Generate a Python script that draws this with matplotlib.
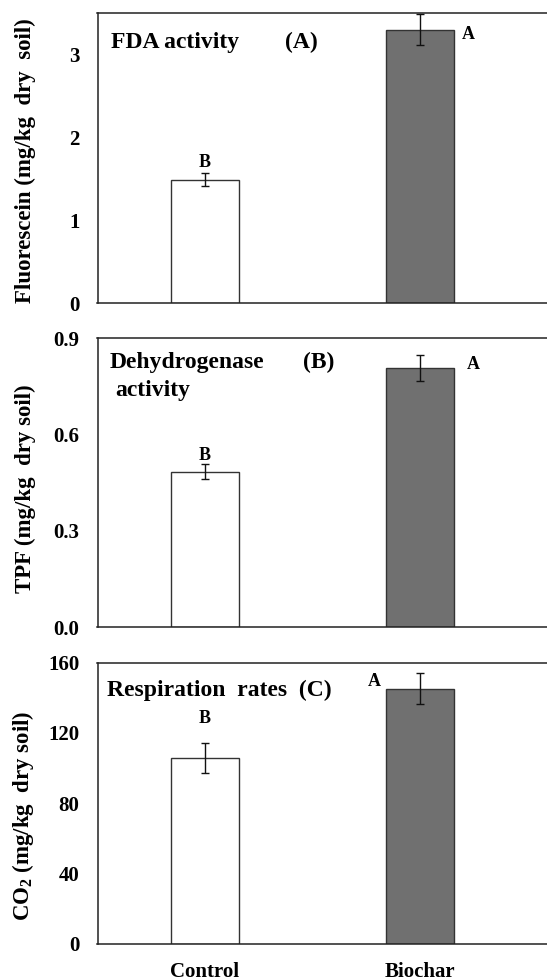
import matplotlib
matplotlib.use("Agg")
import matplotlib.pyplot as plt

plt.rcParams['font.family'] = ['Liberation Serif', 'DejaVu Serif']
plt.rcParams['font.weight'] = 'bold'
plt.rcParams['mathtext.fontset'] = 'custom'
plt.rcParams['mathtext.rm'] = 'Liberation Serif:bold'
plt.rcParams['mathtext.it'] = 'Liberation Serif:bold'
plt.rcParams['mathtext.bf'] = 'Liberation Serif:bold'

categories = ["Control", "Biochar"]

fda_values = [1.49, 3.30]
fda_err = [0.075, 0.19]
fda_letters = ["B", "A"]
fda_ticks = [0, 1, 2, 3]
fda_ticklabels = ["0", "1", "2", "3"]

dh_values = [0.484, 0.807]
dh_err = [0.023, 0.041]
dh_letters = ["B", "A"]
dh_ticks = [0.0, 0.3, 0.6, 0.9]
dh_ticklabels = ["0.0", "0.3", "0.6", "0.9"]

resp_values = [105.9, 145.2]
resp_err = [8.5, 8.7]
resp_letters = ["B", "A"]
resp_ticks = [0, 40, 80, 120, 160]
resp_ticklabels = ["0", "40", "80", "120", "160"]

W, H = 547, 980
fig = plt.figure(figsize=(W / 100, H / 100), dpi=100)

bar_colors = ["white", "#707070"]
edge = "#333333"


def make_axes(top_px, bottom_px):
    left_px = 97.5
    return fig.add_axes([left_px / W, (H - bottom_px) / H,
                         (W - left_px) / W, (bottom_px - top_px) / H])


def style(ax, ylim, ticks, ticklabels, ylabel, label_y):
    ax.set_xlim(-0.5, 1.593)
    ax.set_ylim(*ylim)
    ax.set_yticks(ticks)
    ax.set_yticklabels(ticklabels, fontsize=15, fontweight='bold')
    ax.tick_params(axis='both', length=0, pad=13)
    ax.spines['right'].set_visible(False)
    for s in ['left', 'top', 'bottom']:
        ax.spines[s].set_linewidth(1.1)
        ax.spines[s].set_color('#222222')
    ax.set_ylabel(ylabel, fontsize=16.5, fontweight='bold')
    ax.yaxis.set_label_coords(-0.137, label_y)


def bars(ax, values, err):
    x = list(range(len(categories)))
    ax.bar(x, values, width=0.316, color=bar_colors, edgecolor=edge,
           linewidth=1.0, zorder=2)
    ax.errorbar(x, values, yerr=err, fmt='none', ecolor='#111111',
                elinewidth=1.0, capsize=3, capthick=1.0, zorder=3)


# Panel A
axA = make_axes(13, 303)
bars(axA, fda_values, fda_err)
style(axA, (0, 3.5), fda_ticks, fda_ticklabels,
      "Fluorescein (mg/kg  dry  soil)", 0.49)
axA.set_xticks([])
axA.text(0.029, 0.897, "FDA activity", transform=axA.transAxes,
         fontsize=17, fontweight='bold', va='center', ha='left')
axA.text(0.418, 0.897, "(A)", transform=axA.transAxes,
         fontsize=17, fontweight='bold', va='center', ha='left')
axA.text(0, 1.695, fda_letters[0], fontsize=13, fontweight='bold',
         ha='center', va='center')
axA.text(1.228, 3.24, fda_letters[1], fontsize=13, fontweight='bold',
         ha='center', va='center')

# Panel B
axB = make_axes(338.3, 627.3)
bars(axB, dh_values, dh_err)
style(axB, (0, 0.9), dh_ticks, dh_ticklabels,
      "TPF (mg/kg  dry soil)", 0.48)
axB.set_xticks([])
axB.text(0.027, 0.916, "Dehydrogenase", transform=axB.transAxes,
         fontsize=17, fontweight='bold', va='center', ha='left')
axB.text(0.458, 0.916, "(B)", transform=axB.transAxes,
         fontsize=17, fontweight='bold', va='center', ha='left')
axB.text(0.040, 0.818, "activity", transform=axB.transAxes,
         fontsize=17, fontweight='bold', va='center', ha='left')
axB.text(0, 0.535, dh_letters[0], fontsize=13, fontweight='bold',
         ha='center', va='center')
axB.text(1.251, 0.818, dh_letters[1], fontsize=13, fontweight='bold',
         ha='center', va='center')

# Panel C
axC = make_axes(662.7, 943.7)
bars(axC, resp_values, resp_err)
style(axC, (0, 160), resp_ticks, resp_ticklabels,
      "CO$_2$ (mg/kg  dry soil)", 0.455)
axC.set_xticks(range(len(categories)))
axC.set_xticklabels(categories, fontsize=15, fontweight='bold')
axC.tick_params(axis='x', pad=13)
axC.text(0.022, 0.903, "Respiration  rates  (C)", transform=axC.transAxes,
         fontsize=17, fontweight='bold', va='center', ha='left')
axC.text(0, 128, resp_letters[0], fontsize=13, fontweight='bold',
         ha='center', va='center')
axC.text(0.79, 149.5, resp_letters[1], fontsize=13, fontweight='bold',
         ha='center', va='center')

fig.savefig("out.png", dpi=100)
